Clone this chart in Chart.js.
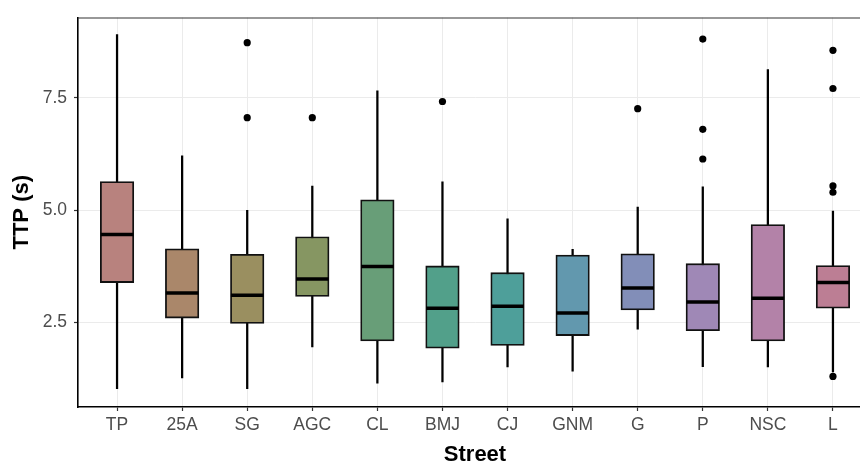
<!DOCTYPE html>
<html>
<head>
<meta charset="utf-8">
<script src="https://cdn.jsdelivr.net/npm/chart.js@4/dist/chart.umd.min.js"></script>
<style>
html,body{margin:0;padding:0;background:#fff;overflow:hidden;width:860px;height:463px;}
canvas{display:block;}
</style>
</head>
<body>
<canvas id="c" width="873" height="463"></canvas>
<script>
const streets = ["TP","25A","SG","AGC","CL","BMJ","CJ","GNM","G","P","NSC","L"];
const whiskerLow  = [1.03,1.27,1.03,1.96,1.15,1.18,1.51,1.42,2.35,1.52,1.51,1.40];
const q1          = [3.39,2.60,2.48,3.08,2.09,1.93,1.99,2.21,2.78,2.32,2.09,2.82];
const median      = [4.46,3.16,3.11,3.47,3.75,2.82,2.86,2.71,3.27,2.96,3.04,3.39];
const q3          = [5.64,4.14,4.02,4.41,5.23,3.76,3.61,4.00,4.03,3.81,4.68,3.77];
const whiskerHigh = [8.91,6.21,5.00,5.54,7.66,5.63,4.81,4.13,5.07,5.52,8.13,4.98];
const outliers = [
  [], [], [8.73,7.06], [7.06], [], [7.42], [], [], [7.26], [8.81,6.80,6.14], [], [8.56,7.71,5.54,5.40,1.30]
];
const boxColors = ["#B8827E","#AA876A","#9A8F60","#869662","#689E78","#52A08A","#4E9F9A","#6298AE","#828EB8","#9F88B6","#B382A8","#BC7E94"];
const yTicks = [2.5, 5.0, 7.5];

const whiskerData = streets.map((s,i)=>({x:i, y:[whiskerLow[i], whiskerHigh[i]]}));
const boxData = streets.map((s,i)=>({x:i, y:[q1[i], q3[i]]}));
const medianData = streets.map((s,i)=>({x:i, y:median[i]}));
const outlierData = [];
outliers.forEach((arr,i)=>arr.forEach(v=>outlierData.push({x:i, y:v})));

const panelBorder = {
  id:'panelBorder',
  afterDraw(chart){
    const {ctx, chartArea:a} = chart;
    ctx.save();
    ctx.strokeStyle = '#333333';
    ctx.lineWidth = 1.2;
    ctx.beginPath();
    ctx.moveTo(a.left, a.top + 0.5);
    ctx.lineTo(a.right, a.top + 0.5);
    ctx.stroke();
    ctx.restore();
  }
};

new Chart(document.getElementById('c'), {
  type: 'bar',
  data: {
    datasets: [
      {type:'bar', data: whiskerData, backgroundColor:'#000', borderWidth:0, barThickness:1.6, grouped:false, order:3},
      {type:'bar', data: boxData, backgroundColor: boxColors, borderColor:'#111', borderWidth:1.8, borderSkipped:false, barThickness:33.5, grouped:false, order:2},
      {type:'scatter', data: medianData, pointStyle:'line', pointRadius:16.3, borderColor:'#000', borderWidth:3.5, order:1},
      {type:'scatter', data: outlierData, pointStyle:'circle', pointRadius:3.6, backgroundColor:'#000', borderColor:'#000', borderWidth:0, order:0}
    ]
  },
  options: {
    responsive:false,
    animation:false,
    events:[],
    layout:{autoPadding:false, padding:{top:15, right:1, left:0, bottom:0}},
    plugins:{legend:{display:false}, tooltip:{enabled:false}},
    scales:{
      x:{
        type:'linear', min:-0.6, max:11.6, offset:false,
        afterBuildTicks(scale){ scale.ticks = streets.map((s,i)=>({value:i})); },
        afterFit(scale){ scale.height = 56; },
        ticks:{ autoSkip:false, maxRotation:0, padding:4, color:'#4D4D4D',
          font:{family:'"Liberation Sans", Arial, sans-serif', size:17.5},
          callback:(v)=>streets[v] },
        grid:{ offset:false, color:'#EBEBEB', lineWidth:1, tickLength:4, tickColor:'#333333', tickWidth:1.2 },
        border:{ color:'#000', width:1.6 },
        title:{ display:true, text:'Street', color:'#000', padding:{top:0,bottom:-3},
          font:{family:'"Liberation Sans", Arial, sans-serif', size:22, weight:'bold', lineHeight:1} }
      },
      y:{
        type:'linear', min:0.62, max:9.29,
        afterBuildTicks(scale){ scale.ticks = yTicks.map(v=>({value:v})); },
        afterFit(scale){ scale.width = 78; },
        ticks:{ padding:7, color:'#4D4D4D',
          font:{family:'"Liberation Sans", Arial, sans-serif', size:17.5},
          callback:(v)=>Number(v).toFixed(1) },
        grid:{ color:'#EBEBEB', lineWidth:1, tickLength:4, tickColor:'#333333', tickWidth:1.2 },
        border:{ color:'#000', width:1.6 },
        title:{ display:true, text:'TTP (s)', color:'#000', padding:{top:11,bottom:0},
          font:{family:'"Liberation Sans", Arial, sans-serif', size:22, weight:'bold', lineHeight:1} }
      }
    }
  },
  plugins:[panelBorder]
});
</script>
</body>
</html>
